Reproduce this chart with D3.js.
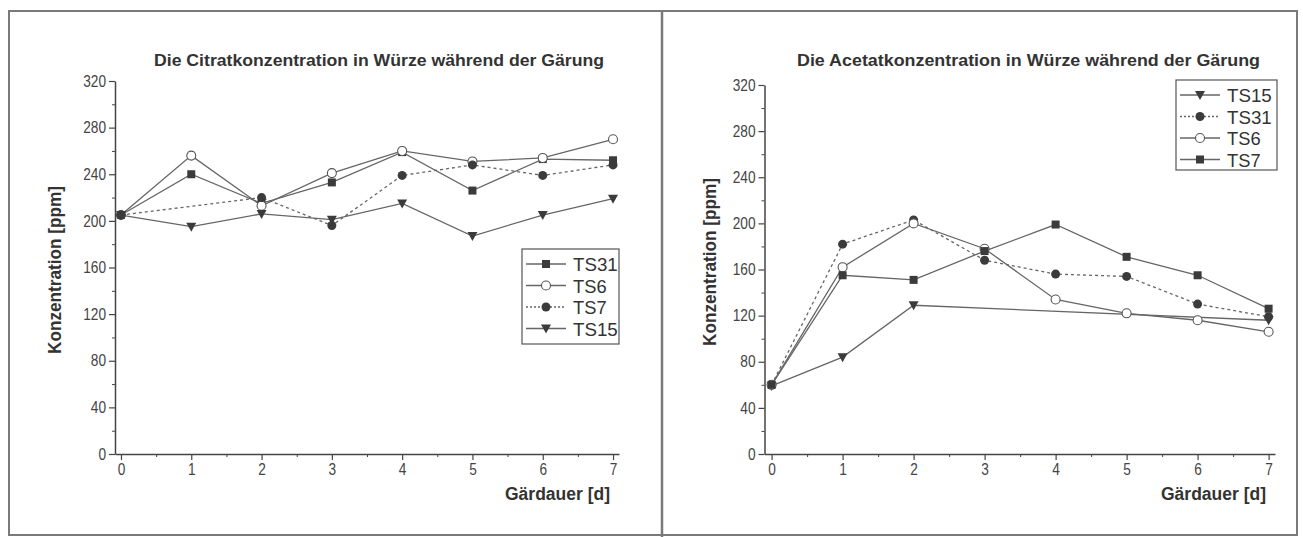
<!DOCTYPE html>
<html>
<head>
<meta charset="utf-8">
<script src="https://cdn.jsdelivr.net/npm/d3@7"></script>
<style>
  html, body { margin: 0; padding: 0; background: #fff; }
  svg { display: block; }
  text { font-family: "Liberation Sans", Arial, sans-serif; }
</style>
</head>
<body>
<svg id="chart" width="1303" height="537"></svg>
<script>
// Gärdauer in Tagen
const days = [0, 1, 2, 3, 4, 5, 6, 7];
const yTickValues = [0, 40, 80, 120, 160, 200, 240, 280, 320];

// Citrat [ppm]
const citratTS31 = [205, 240, 215, 233, 259, 226, 253, 252];
const citratTS6  = [205, 256, 213, 241, 260, 251, 254, 270];
const citratTS7  = [205, null, 220, 196, 239, 248, 239, 248];
const citratTS15 = [205, 195, 206, 201, 215, 187, 205, 219];

// Acetat [ppm]
const acetatTS15 = [59, 84, 129, null, null, null, null, 116];
const acetatTS31 = [60, 182, 203, 168, 156, 154, 130, 119];
const acetatTS6  = [60, 162, 200, 178, 134, 122, 116, 106];
const acetatTS7  = [60, 155, 151, 176, 199, 171, 155, 126];

const LINE = "#666";
const MARK = "#3b3b3b";
const TEXT = "#333";

const svg = d3.select("#chart");

// outer frame and divider
svg.append("rect").attr("x", 9).attr("y", 11).attr("width", 1288).attr("height", 524)
  .attr("fill", "none").attr("stroke", "#7a7a7a").attr("stroke-width", 2);
svg.append("line").attr("x1", 662).attr("x2", 662).attr("y1", 11).attr("y2", 537)
  .attr("stroke", "#7a7a7a").attr("stroke-width", 2.5);

function drawMarker(g, type, cx, cy) {
  if (type === "square") {
    g.append("rect").attr("x", cx - 4).attr("y", cy - 4).attr("width", 8).attr("height", 8).attr("fill", MARK);
  } else if (type === "circle") {
    g.append("circle").attr("cx", cx).attr("cy", cy).attr("r", 4.5).attr("fill", MARK);
  } else if (type === "open") {
    g.append("circle").attr("cx", cx).attr("cy", cy).attr("r", 4.5).attr("fill", "#fff")
      .attr("stroke", "#555").attr("stroke-width", 1.1);
  } else if (type === "triangle") {
    g.append("path").attr("d", `M${cx - 5},${cy - 4}L${cx + 5},${cy - 4}L${cx},${cy + 5}Z`).attr("fill", MARK);
  }
}

function panel(cfg) {
  const x = d3.scaleLinear().domain(cfg.xDomain).range(cfg.xRange);
  const y = d3.scaleLinear().domain([0, 320]).range(cfg.yRange);
  const g = svg.append("g");

  // title
  g.append("text").attr("x", cfg.title.x).attr("y", 66)
    .attr("textLength", cfg.title.w).attr("lengthAdjust", "spacingAndGlyphs")
    .attr("font-size", 17).attr("font-weight", "bold").attr("fill", TEXT)
    .text(cfg.title.text);

  // minor ticks
  g.append("g").attr("transform", `translate(${cfg.xRange[0]},0)`)
    .call(d3.axisLeft(y).tickValues(d3.range(20, 320, 40)).tickSize(3).tickFormat(""))
    .call(a => a.select(".domain").remove())
    .call(a => a.selectAll("line").attr("stroke", "#444"));
  g.append("g").attr("transform", `translate(0,${cfg.yRange[0]})`)
    .call(d3.axisBottom(x).tickValues(d3.range(0.5, 7, 1)).tickSize(3).tickFormat(""))
    .call(a => a.select(".domain").remove())
    .call(a => a.selectAll("line").attr("stroke", "#444"));

  // major axes
  const yAxis = g.append("g").attr("transform", `translate(${cfg.xRange[0]},0)`)
    .call(d3.axisLeft(y).tickValues(yTickValues).tickSize(6).tickSizeOuter(0).tickPadding(3));
  const xAxis = g.append("g").attr("transform", `translate(0,${cfg.yRange[0]})`)
    .call(d3.axisBottom(x).tickValues(days).tickSize(6).tickSizeOuter(0).tickPadding(4));
  [yAxis, xAxis].forEach(a => {
    a.attr("font-family", null).attr("font-size", null);
    a.select(".domain").attr("stroke", "#444").attr("stroke-width", 1.5);
    a.selectAll(".tick line").attr("stroke", "#444").attr("stroke-width", 1.2);
    a.selectAll(".tick text").attr("fill", "#444")
      .style("font-size", "16px")
      .attr("textLength", function () { return this.textContent.length * 7.6; })
      .attr("lengthAdjust", "spacingAndGlyphs");
  });

  // axis titles
  g.append("text")
    .attr("transform", `translate(${cfg.yLabel.x},${cfg.yLabel.y}) rotate(-90)`)
    .attr("text-anchor", "middle").attr("textLength", 168).attr("lengthAdjust", "spacingAndGlyphs")
    .attr("font-size", 18).attr("font-weight", "bold").attr("fill", TEXT)
    .text("Konzentration [ppm]");
  g.append("text").attr("x", cfg.xLabel.x).attr("y", 500)
    .attr("textLength", 105).attr("lengthAdjust", "spacingAndGlyphs")
    .attr("font-size", 18).attr("font-weight", "bold").attr("fill", TEXT)
    .text("Gärdauer [d]");

  // series
  const line = d3.line().x(d => x(d[0])).y(d => y(d[1]));
  cfg.series.forEach(s => {
    const pts = days.map((d, i) => [d, s.values[i]]).filter(p => p[1] != null);
    g.append("path").attr("d", line(pts)).attr("fill", "none")
      .attr("stroke", LINE).attr("stroke-width", 1.3)
      .attr("stroke-dasharray", s.dash ? "3,3" : null);
  });
  cfg.series.forEach(s => {
    const mg = g.append("g");
    days.forEach((d, i) => {
      if (s.values[i] != null) drawMarker(mg, s.marker, x(d), y(s.values[i]));
    });
  });

  // legend
  const L = cfg.legend;
  g.append("rect").attr("x", L.x).attr("y", L.y).attr("width", L.w).attr("height", L.h)
    .attr("fill", "#fff").attr("stroke", "#555").attr("stroke-width", 1.2);
  cfg.legendOrder.forEach((name, i) => {
    const s = cfg.series.find(t => t.name === name);
    const cy = L.y + 15 + i * 21.5;
    const lx = L.x + 4;
    g.append("line").attr("x1", lx).attr("x2", lx + 40).attr("y1", cy).attr("y2", cy)
      .attr("stroke", LINE).attr("stroke-width", 1.3)
      .attr("stroke-dasharray", s.dash ? "2,2" : null);
    drawMarker(g, s.marker, lx + 20, cy);
    g.append("text").attr("x", lx + 47).attr("y", cy + 7)
      .attr("textLength", name.length * 11.2).attr("lengthAdjust", "spacingAndGlyphs")
      .attr("font-size", 19).attr("fill", TEXT).text(name);
  });
}

panel({
  xDomain: [-0.085, 7.085], xRange: [115, 619], yRange: [454, 81],
  title: { x: 154, w: 450, text: "Die Citratkonzentration in Würze während der Gärung" },
  yLabel: { x: 61, y: 270 }, xLabel: { x: 505 },
  series: [
    { name: "TS31", values: citratTS31, marker: "square", dash: false },
    { name: "TS6", values: citratTS6, marker: "open", dash: false },
    { name: "TS7", values: citratTS7, marker: "circle", dash: true },
    { name: "TS15", values: citratTS15, marker: "triangle", dash: false }
  ],
  legendOrder: ["TS31", "TS6", "TS7", "TS15"],
  legend: { x: 522, y: 249, w: 97, h: 95 }
});

panel({
  xDomain: [-0.1, 7.09], xRange: [764.5, 1275], yRange: [454, 85],
  title: { x: 797, w: 463, text: "Die Acetatkonzentration in Würze während der Gärung" },
  yLabel: { x: 716, y: 262 }, xLabel: { x: 1161 },
  series: [
    { name: "TS15", values: acetatTS15, marker: "triangle", dash: false },
    { name: "TS31", values: acetatTS31, marker: "circle", dash: true },
    { name: "TS6", values: acetatTS6, marker: "open", dash: false },
    { name: "TS7", values: acetatTS7, marker: "square", dash: false }
  ],
  legendOrder: ["TS15", "TS31", "TS6", "TS7"],
  legend: { x: 1176, y: 80, w: 101, h: 90 }
});
</script>
</body>
</html>
